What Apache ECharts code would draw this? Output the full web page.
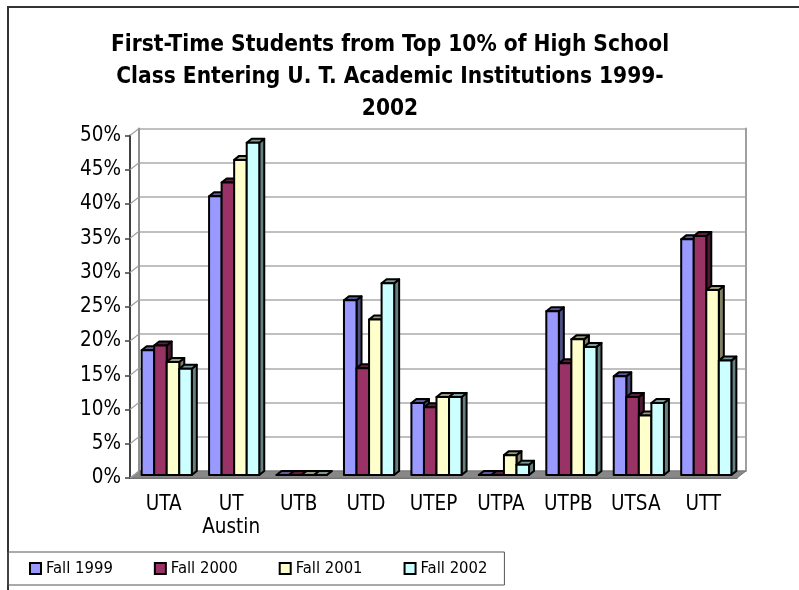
<!DOCTYPE html>
<html><head><meta charset="utf-8">
<script src="https://cdn.jsdelivr.net/npm/echarts@6.0.0/dist/echarts.min.js"></script>
<style>html,body{margin:0;padding:0;background:#fff}#c{width:799px;height:590px}</style>
</head><body><div id="c"></div>
<script>
const categories = ['UTA', 'UT Austin', 'UTB', 'UTD', 'UTEP', 'UTPA', 'UTPB', 'UTSA', 'UTT'];
const seriesNames = ['Fall 1999', 'Fall 2000', 'Fall 2001', 'Fall 2002'];
const fall1999 = [18.2, 40.7, 0, 25.5, 10.5, 0, 23.9, 14.4, 34.4];
const fall2000 = [18.9, 42.7, 0, 15.6, 9.9, 0, 16.3, 11.4, 34.9];
const fall2001 = [16.5, 46.0, 0, 22.7, 11.4, 2.9, 19.8, 8.7, 27.0];
const fall2002 = [15.5, 48.5, 0, 28.0, 11.4, 1.5, 18.7, 10.5, 16.7];
const yTicks = [0, 5, 10, 15, 20, 25, 30, 35, 40, 45, 50];

const colors = ['#9999FF', '#993366', '#FFFFCC', '#CCFFFF'];
const FONT = '"DejaVu Sans Condensed", "DejaVu Sans", sans-serif';
const DEPTH = [9, -7];     // floor depth offset (px)
const BAR_SHIFT = [3, -3]; // bar front face offset from the front axis
const BAR_DEPTH = [5, -4]; // bar 3D depth

function shade(hex, f) {
  const n = parseInt(hex.slice(1), 16);
  const r = Math.round(((n >> 16) & 255) * f), g = Math.round(((n >> 8) & 255) * f), b = Math.round((n & 255) * f);
  return 'rgb(' + r + ',' + g + ',' + b + ')';
}

function barSeries(name, data, idx) {
  const color = colors[idx];
  return {
    type: 'custom', name: name, xAxisIndex: 0, yAxisIndex: 0, z: 5,
    itemStyle: { color: color },
    encode: { x: 0, y: 1 },
    data: data.map((v, i) => [i, v]),
    renderItem: function (params, api) {
      const cat = api.value(0), val = api.value(1);
      const base = api.coord([cat, 0]);
      const top = api.coord([cat, val]);
      const bw = api.size([1, 0])[0];
      const w = bw * 0.186;
      const xl = base[0] + BAR_SHIFT[0] - 2 * w + idx * w;
      const xr = xl + w;
      const yb = base[1] + BAR_SHIFT[1];
      const yt = top[1] + BAR_SHIFT[1];
      const dx = BAR_DEPTH[0], dy = BAR_DEPTH[1];
      const stroke = { stroke: '#000', lineWidth: 2, lineJoin: 'round' };
      return {
        type: 'group',
        children: [
          { type: 'polygon', shape: { points: [[xr, yt], [xr + dx, yt + dy], [xr + dx, yb + dy], [xr, yb]] },
            style: Object.assign({ fill: shade(color, 0.5) }, stroke) },
          { type: 'polygon', shape: { points: [[xl, yt], [xl + dx, yt + dy], [xr + dx, yt + dy], [xr, yt]] },
            style: Object.assign({ fill: shade(color, 0.6) }, stroke) },
          { type: 'rect', shape: { x: xl, y: yt, width: w, height: yb - yt },
            style: Object.assign({ fill: color }, stroke) }
        ]
      };
    }
  };
}

const chart = echarts.init(document.getElementById('c'), null, { renderer: 'canvas' });
const option = {
  animation: false,
  backgroundColor: '#fff',
  textStyle: { fontFamily: FONT },
  title: {
    text: 'First-Time Students from Top 10% of High School\nClass Entering U. T. Academic Institutions 1999-\n2002',
    left: 390, top: 29, padding: 0, textAlign: 'center',
    textStyle: { fontFamily: FONT, fontSize: 22.5, fontWeight: 'bold', lineHeight: 32, color: '#000' }
  },
  legend: {
    data: seriesNames.map((n, i) => ({ name: n, icon: 'rect', itemStyle: { color: colors[i], borderColor: '#000', borderWidth: 2 } })),
    left: 8, top: 552,
    orient: 'horizontal',
    itemWidth: 11, itemHeight: 11, itemGap: 41,
    padding: [8, 17, 8, 21],
    borderColor: '#555', borderWidth: 1,
    textStyle: { fontFamily: FONT, fontSize: 16.5, color: '#000' },
    selectedMode: false
  },
  grid: [
    { left: 130, right: 62, top: 135.5, height: 342.5 },
    { left: 130 + DEPTH[0], right: 62 - DEPTH[0], top: 135.5 + DEPTH[1], height: 342.5 }
  ],
  xAxis: [
    { type: 'category', gridIndex: 0, data: categories,
      axisLine: { lineStyle: { color: '#404040', width: 1.5 } },
      axisTick: { length: 6, lineStyle: { color: '#404040', width: 1.5 } },
      axisLabel: { interval: 0, hideOverlap: false, fontFamily: FONT, fontSize: 20.5, color: '#000', margin: 15, lineHeight: 23,
        formatter: v => v.replace(' ', '\n') },
      splitLine: { show: false } },
    { type: 'category', gridIndex: 1, data: categories, show: false }
  ],
  yAxis: [
    { type: 'value', gridIndex: 0, min: 0, max: 50, interval: 5,
      axisLine: { show: true, lineStyle: { color: '#404040', width: 2 } },
      axisTick: { show: true, length: 5, lineStyle: { color: '#404040', width: 1.5 } },
      axisLabel: { fontFamily: FONT, fontSize: 20.5, color: '#000', margin: 9, padding: [5, 0, 0, 0], formatter: '{value}%' },
      splitLine: { show: false } },
    { type: 'value', gridIndex: 1, min: 0, max: 50, interval: 5,
      axisLine: { show: true, lineStyle: { color: '#909090', width: 2 } },
      axisTick: { show: false }, axisLabel: { show: false },
      splitLine: { show: true, lineStyle: { color: '#c0c0c0', width: 2 } } },
    { type: 'value', gridIndex: 1, min: 0, max: 50, interval: 5, position: 'right',
      axisLine: { show: true, lineStyle: { color: '#a0a0a0', width: 2 } },
      axisTick: { show: false }, axisLabel: { show: false }, splitLine: { show: false } }
  ],
  series: [
    { type: 'custom', name: 'floor', xAxisIndex: 0, yAxisIndex: 0, z: 1, silent: true,
      data: [[0, 0]],
      renderItem: function (params, api) {
        const cs = params.coordSys;
        const y0 = api.coord([0, 0])[1];
        const x0 = cs.x, x1 = cs.x + cs.width;
        return { type: 'polygon', shape: { points: [[x0, y0], [x1, y0], [x1 + DEPTH[0], y0 + DEPTH[1]], [x0 + DEPTH[0], y0 + DEPTH[1]]] },
          style: { fill: '#888', stroke: '#777', lineWidth: 1 } };
      } },
    { type: 'custom', name: 'wallTicks', xAxisIndex: 0, yAxisIndex: 0, z: 1, silent: true,
      data: yTicks.map(v => [0, v]),
      renderItem: function (params, api) {
        const cs = params.coordSys;
        const y = api.coord([0, api.value(1)])[1];
        return { type: 'line', shape: { x1: cs.x, y1: y, x2: cs.x + DEPTH[0], y2: y + DEPTH[1] },
          style: { stroke: '#a0a0a0', lineWidth: 1.2 } };
      } },
    barSeries(seriesNames[0], fall1999, 0),
    barSeries(seriesNames[1], fall2000, 1),
    barSeries(seriesNames[2], fall2001, 2),
    barSeries(seriesNames[3], fall2002, 3)
  ],
  graphic: [
    { type: 'polyline', silent: true, shape: { points: [[8, 590], [8, 7], [799, 7]] },
      style: { stroke: '#333', lineWidth: 2, fill: null } }
  ]
};
chart.setOption(option);
</script>
</body></html>
